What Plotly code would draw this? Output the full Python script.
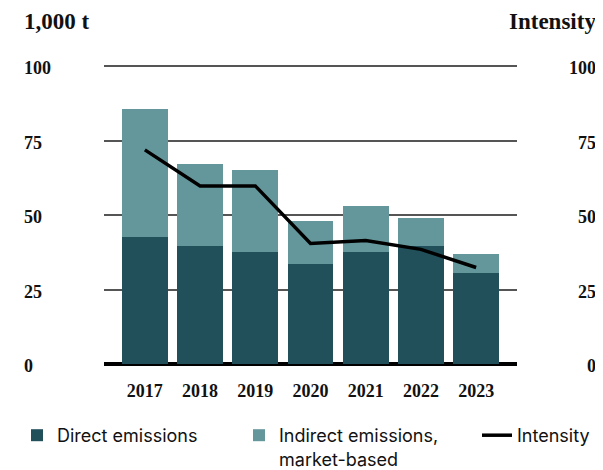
import plotly.graph_objects as go

years = ["2017", "2018", "2019", "2020", "2021", "2022", "2023"]
direct = [42.6, 39.6, 37.6, 33.6, 37.6, 39.6, 30.5]
indirect = [43.0, 27.5, 27.5, 14.4, 15.4, 9.4, 6.4]
intensity = [71.9, 59.8, 59.8, 40.5, 41.5, 38.5, 32.4]
y_ticks = [0, 25, 50, 75, 100]

DARK = "#214F5A"
LIGHT = "#64979C"
SERIF = "Liberation Serif"
SANS = "Inter"

# page body has an 8px margin; compensate
OFF = 8
W, H = 603 - OFF, 470 - OFF
L, R, T, B = 96, 86, 57, 106
PW = W - L - R
PH = H - T - B

fig = go.Figure()
fig.add_trace(go.Bar(x=years, y=direct, name="Direct emissions",
                     marker=dict(color=DARK, line=dict(width=0)),
                     legend="legend"))
fig.add_trace(go.Bar(x=years, y=indirect, name="Indirect emissions,<br>market-based",
                     marker=dict(color=LIGHT, line=dict(width=0)),
                     legend="legend2"))
fig.add_trace(go.Scatter(x=years, y=intensity, name="Intensity", mode="lines",
                         line=dict(color="black", width=3.5), yaxis="y2",
                         legend="legend3"))

legend_font = dict(family=SANS, size=18, color="#111")
LEG_Y = 1 - (417 - OFF) / H
def leg(xpx):
    return dict(orientation="h", xref="container", yref="container",
                x=(xpx - OFF - 40) / W, y=LEG_Y, xanchor="left", yanchor="top",
                font=legend_font, bgcolor="rgba(0,0,0,0)", valign="top")

fig.update_layout(
    width=W, height=H,
    margin=dict(l=L, r=R, t=T, b=B, pad=0),
    paper_bgcolor="white", plot_bgcolor="white",
    barmode="stack", bargap=0.17,
    xaxis=dict(type="category", range=[-0.74, 6.74], showgrid=False,
               showline=False, zeroline=False, ticks="",
               tickfont=dict(family=SERIF, size=18, color="#111", weight="bold"),
               ticklabelstandoff=14),
    yaxis=dict(range=[0, 100.4], tickvals=y_ticks, showticklabels=False,
               showgrid=True, gridcolor="#555", gridwidth=1.5,
               zeroline=True, zerolinecolor="black", zerolinewidth=4,
               showline=False, ticks=""),
    yaxis2=dict(range=[0, 100.4], overlaying="y", side="right",
                showticklabels=False, showgrid=False, zeroline=False,
                showline=False, ticks=""),
    showlegend=True,
    legend=leg(57),
    legend2=leg(279),
    legend3=leg(517),
)

tick_font = dict(family=SERIF, size=18, color="#111", weight="bold")
for v in y_ticks:
    fig.add_annotation(x=(22 - OFF - L) / PW, xref="paper", y=v, yref="y",
                       text=str(v), showarrow=False, xanchor="left",
                       yanchor="middle", yshift=-2, font=tick_font)
    fig.add_annotation(x=(598 - OFF - L) / PW, xref="paper", y=v, yref="y2",
                       text=str(v), showarrow=False, xanchor="right",
                       yanchor="middle", yshift=-2, font=tick_font)

title_font = dict(family=SERIF, size=23, color="#111", weight="bold")
fig.add_annotation(x=(22 - OFF - L) / PW, xref="paper", y=1 + 44 / PH, yref="paper",
                   text="1,000 t", showarrow=False, xanchor="left",
                   yanchor="middle", font=title_font)
fig.add_annotation(x=(598 - OFF - L) / PW, xref="paper", y=1 + 44 / PH, yref="paper",
                   text="Intensity", showarrow=False, xanchor="right",
                   yanchor="middle", font=title_font)

fig.write_html("out.html")
